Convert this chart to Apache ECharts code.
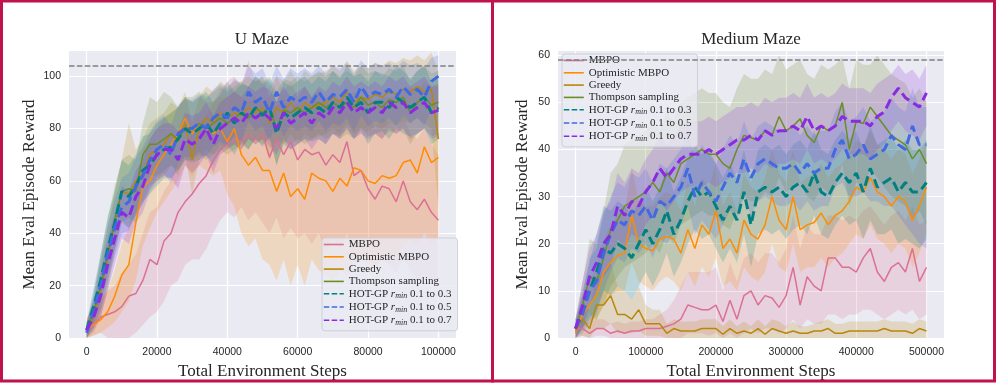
<!DOCTYPE html>
<html>
<head>
<meta charset="utf-8">
<script src="https://cdn.jsdelivr.net/npm/echarts@6/dist/echarts.min.js"></script>
<style>
  html, body { margin: 0; padding: 0; background: #fff; }
  #chart { width: 996px; height: 383px; }
</style>
</head>
<body>
<div id="chart"></div>
<script>
// evaluation steps
const uSteps = Array.from({ length: 51 }, (_, i) => i * 2000);
const mSteps = Array.from({ length: 51 }, (_, i) => i * 10000);

const names = ["MBPO", "Optimistic MBPO", "Greedy", "Thompson sampling",
  "HOT-GP rmin 0.1 to 0.3", "HOT-GP rmin 0.1 to 0.5", "HOT-GP rmin 0.1 to 0.7"];
const colors = ["#db7093", "#ff8c00", "#b8860b", "#6b8e23", "#008080", "#4169e1", "#8a2be2"];

const uTarget = 104;
const mTarget = 59;

// ---- U Maze ----
const uMBPO = [3,5,8,9,10,12,16,17,22,30, 28,37,40,48,52,55,59,62,68,72, 74,76,75,78,76,78,69,76,70,75, 68,72,70,71,66,70,67,75,62,64, 57,53,58,57,52,60,52,49,53,48, 45];
const uMBPOLo = [0,1,2,0,0,0,0,2,5,8, 10,14,20,22,28,30,30,34,40,45, 48,46,50,45,48,44,40,46,38,42, 38,40,36,40,33,38,34,40,30,32, 30,28,30,28,25,30,26,22,24,22, 20];
const uMBPOHi = [6,10,15,18,20,25,28,32,40,48, 50,56,60,68,74,78,82,85,90,95, 98,100,96,106,98,100,92,100,94,98, 92,96,92,95,90,94,90,96,88,90, 85,80,84,82,80,85,78,76,80,74, 70];

const uOpt = [4,5,7,10,16,24,28,44,58,60, 66,70,74,78,84,78,82,80,78,80, 75,80,70,66,69,64,64,56,63,54, 57,53,63,61,60,56,61,58,65,64, 60,59,62,61,62,67,68,63,73,67, 69];
const uOptLo = [0,1,2,4,6,10,14,22,35,42, 48,52,56,60,66,62,66,64,62,64, 55,50,40,35,38,30,28,22,30,20, 28,20,30,26,24,22,26,24,28,30, 28,26,30,30,32,35,38,35,40,36, 38];
const uOptHi = [8,10,14,18,26,36,42,60,72,76, 80,84,86,88,92,90,92,90,90,92, 92,94,92,90,92,90,92,88,92,86, 90,86,92,90,90,88,92,90,94,92, 92,90,92,92,92,94,96,94,98,96, 96];

const uGreedy = [3,8,18,30,44,56,55,60,63,70, 72,74,78,75,82,68,80,84,82,86, 84,86,85,88,86,88,82,88,86,90, 86,90,88,89,90,92,90,94,90,92, 91,93,92,94,93,95,94,96,94,95, 76];
const uGreedyLo = [0,2,8,18,32,44,42,48,52,58, 60,62,66,62,70,55,68,72,70,74, 72,74,72,76,74,76,68,76,74,78, 74,78,76,77,78,80,78,82,78,80, 79,81,80,82,81,83,82,84,82,80, 50];
const uGreedyHi = [6,14,28,42,56,68,82,72,76,82, 84,86,90,88,94,82,92,96,94,98, 96,98,98,100,98,100,96,100,98,102, 98,102,100,101,102,104,102,106,102,104, 103,105,104,106,105,107,106,108,106,109, 102];

const uThompson = [3,10,20,32,45,56,57,56,70,74, 74,76,78,76,80,80,82,80,82,84, 82,84,86,84,88,86,88,80,87,86, 88,86,88,90,88,90,88,90,88,92, 89,90,88,91,90,92,86,90,92,89, 90];
const uThompsonLo = [0,4,10,20,34,44,46,44,58,62, 62,64,66,64,68,68,70,68,70,72, 70,72,74,72,76,74,76,66,75,74, 76,74,76,78,76,78,76,78,76,80, 77,78,76,79,78,80,74,78,80,77, 78];
const uThompsonHi = [6,16,32,46,58,68,70,68,82,92, 90,94,92,88,92,92,94,92,94,96, 94,96,98,96,100,98,100,94,99,98, 100,98,100,102,100,102,100,102,100,104, 101,102,100,103,102,104,98,102,104,101, 102];

const uHot3 = [3,12,22,34,44,56,54,58,64,66, 70,72,73,76,80,78,80,82,78,82, 86,82,86,84,88,85,88,78,86,84, 86,88,86,88,86,90,88,92,88,90, 86,90,90,88,92,90,88,90,92,86, 88];
const uHot3Lo = [0,6,14,24,34,45,42,47,52,55, 58,61,61,64,68,67,68,70,66,71, 74,70,75,72,76,73,77,66,74,72, 74,76,75,76,74,78,77,80,76,79, 74,78,79,76,80,78,77,78,80,74, 76];
const uHot3Hi = [6,19,32,46,56,68,66,70,77,78, 82,84,86,88,92,90,92,94,90,93, 98,94,97,96,100,97,99,90,98,96, 98,100,97,100,98,102,99,104,100,101, 98,102,101,100,104,102,99,102,104,98, 100];

const uHot5 = [2,10,20,32,42,50,52,58,62,68, 72,74,70,78,80,80,82,80,84,86, 84,88,86,94,90,92,86,94,88,92, 90,92,90,94,90,93,92,95,90,96, 92,94,93,95,92,96,93,95,92,98, 100];
const uHot5Lo = [0,4,11,22,31,40,41,47,51,57, 61,63,59,67,69,69,71,69,73,75, 73,77,75,83,79,81,75,83,77,81, 79,81,79,83,79,82,81,84,79,85, 81,83,82,84,81,85,82,84,81,87, 89];
const uHot5Hi = [5,17,30,43,53,61,63,69,73,79, 83,85,81,89,91,91,93,91,95,97, 95,99,97,104,101,103,97,104,99,103, 101,103,101,104,101,104,103,105,101,106, 103,105,104,105,103,106,104,105,103,107, 108];

const uHot7 = [3,8,16,28,38,48,46,54,58,66, 70,72,72,68,76,74,76,80,74,80, 82,84,82,86,84,86,84,80,86,82, 84,86,82,86,84,88,86,90,86,88, 86,88,86,90,88,90,86,88,90,86, 87];
const uHot7Lo = [0,3,8,18,28,38,36,44,48,56, 60,62,61,57,66,63,66,70,63,70, 72,74,72,76,74,76,73,70,76,72, 74,76,72,76,74,78,76,80,76,78, 76,78,76,80,78,80,76,78,80,76, 77];
const uHot7Hi = [6,14,25,38,48,58,56,64,68,76, 80,82,82,79,86,85,86,90,85,90, 92,94,92,96,94,96,95,90,96,92, 94,96,92,96,94,98,96,100,96,98, 96,98,96,100,98,100,96,98,100,96, 97];

// ---- Medium Maze ----
const mMBPO = [2,2,1,2,2,1,1.5,1,1.5,1.5, 2,2,2,2.5,3,4,7,6.5,6,6, 7,3.5,8,4,9,10,7,9,8.5,6.5, 9,15,7,13,11,10,17,17,15,15, 14,17,19,14,12,15,16,14,19,12, 15];
const mMBPOLo = [0,0.5,0,0.5,0.5,0,0,0,0,0, 0,0,0,0,0,0,1,1,1,0.5, 1,0,1,0,1,2,1,2,2,1, 2,4,2,4,3,3,5,5,4,5, 5,6,6,5,4,5,6,5,6,4, 5];
const mMBPOHi = [4,4,3,4,4,3,3.5,3,3.5,3.5, 4,4,5,6,8,11,14,14,14,14, 15,10,16,12,17,18,16,18,18,16, 19,26,19,24,22,22,26,26,25,26, 25,27,28,26,24,26,27,25,28,24, 25];

const mOpt = [1,5,7,9,14,16,17.5,18,26,20, 19,18.5,21,21.5,21,18,23,19,24,22, 27,19,21,18,25,22,21,24,30,25, 23,30,23,24,24.5,26.5,24,26,27,29, 32,31,34,31,30,28,30,29,25,28, 32];
const mOptLo = [0,2,3,4,7,9,10,10,16,12, 11,10,12,13,12,10,14,11,15,13, 17,11,12,10,15,13,12,14,20,15, 14,20,14,15,15,17,15,17,18,20, 22,21,24,21,20,18,20,19,15,18, 22];
const mOptHi = [3,9,12,15,21,24,26,27,36,29, 28,28,30,31,30,27,33,28,34,32, 37,28,31,27,35,32,31,34,40,35, 33,40,33,34,35,37,34,36,37,39, 42,41,44,41,40,38,40,39,35,38, 42];

const mGreedy = [1.5,4,2,7,7,9,5,5,4,6, 3,3,3,1,2,1.5,1.5,1.5,2,2, 2,0.8,2,1,1.5,1,2,0.8,2,1.5, 1,1.5,1,1,1.5,1.5,2,1,1,1.5, 1.5,1.5,1.5,1.5,2,1.5,1.5,1.5,1,2, 1.5];
const mGreedyLo = [0,0.5,0,2,2,3,1,1,1,1.5, 0.5,0.5,0.5,0,0,0,0,0,0,0, 0,0,0,0,0,0,0,0,0,0, 0,0,0,0,0,0,0,0,0,0, 0,0,0,0,0,0,0,0,0,0, 0];
const mGreedyHi = [3,8,6,13,14,16,11,10,8,11, 7,6,6,3,4,3.5,3.5,3.5,4,4, 4,2.5,4,2.5,3.5,2.5,4,2.5,4,3.5, 2.5,3.5,2.5,2.5,3,3.5,4,3,3,3.5, 3.5,3.5,3.5,3.5,4,3.5,3.5,3.5,3,4, 3.5];

const mThompson = [2,7,13,12,17,23,25,28,29,30, 31,33,31,35,33,37,38,39,40,39, 39,37,36,40,43,42.5,42,44,43,47, 44,45,46.5,43,41.5,45,44,45,50,40, 46,45.5,49,47,45,43,42,41,38,40, 37];
const mThompsonLo = [0,2,5,4,7,11,13,15,16,17, 18,20,18,22,20,24,25,26,27,26, 26,24,23,27,30,29,29,31,30,34, 31,32,33,30,29,32,31,32,37,28, 33,32,36,34,32,30,29,28,25,27, 24];
const mThompsonHi = [4,12,21,20,27,35,37,41,42,43, 44,46,44,48,46,50,51,52,53,52, 52,50,49,53,56,55,55,57,56,60, 57,58,59,56,55,58,57,58,59.5,53, 59,58,58,60,58,56,55,54,51,53, 50];

const mHot3 = [2,6,10,14,19,18,20,19,17,20, 23,20,23,27,22,25,29,32,30,31, 28,25,28,25,31,24,31,32,31,32, 30,32,33,31,35,31,30,33,35,33, 35,31,36,32,33,34,31,33,31,31, 33];
const mHot3Lo = [0,2,4,6,10,9,11,10,8,11, 14,11,14,18,13,16,20,23,21,22, 19,16,19,16,22,15,22,23,22,23, 21,23,24,22,26,22,21,24,26,24, 25,21,25,22,22,23,20,21,20,19, 21];
const mHot3Hi = [4,10,16,22,28,27,29,28,26,29, 32,29,32,36,31,34,38,41,39,40, 37,34,37,34,40,33,40,41,40,41, 39,41,42,40,44,40,39,42,44,42, 44,40,45,41,42,43,40,42,40,40, 42];

const mHot5 = [2,5,10,12,18,22,25,24,27,26, 28,25,29,28,30,32,36,30,33,31, 29,32,35,33,38,34,37,38,37,36, 36,37,35,37,35,36,36,40,42,38, 39,41,38,39,40,43,41,40,45,41, 41];
const mHot5Lo = [0,1,3,5,10,14,17,16,19,18, 20,17,21,20,22,24,28,22,25,23, 21,24,27,25,30,26,29,30,29,28, 28,29,27,29,27,28,28,32,33,30, 30,31,29,29,28,28,26,24,22,20, 19];
const mHot5Hi = [4,9,17,19,26,30,33,32,35,34, 36,33,37,36,38,40,44,38,41,39, 37,40,43,41,46,42,45,46,45,44, 44,45,43,45,43,44,44,48,50,46, 47,49,46,47,48,51,49,48,53,49, 49];

const mHot7 = [2,7,13,16,20,22,28,26,29,28, 31,33,36,34,36,38,39,39,39,40, 39,40,41,42,42,43,42,44,43,44, 44,45,44,47,44,45,44,45,47,46, 46,46,45,47,48,51,53,51,50,49, 52];
const mHot7Lo = [0,2,7,10,13,15,21,19,22,21, 24,26,29,27,29,31,32,32,32,33, 32,33,34,35,35,36,35,37,36,37, 37,38,37,40,37,38,37,38,40,39, 39,39,38,40,41,44,46,44,43,42, 45];
const mHot7Hi = [4,12,19,22,27,29,35,33,36,35, 38,40,43,41,43,45,46,46,46,47, 46,47,48,49,49,50,49,51,50,51, 51,52,51,54,51,52,51,52,54,53, 53,53,52,54,55,56,58,56,57,55, 58];

const uMeans = [uMBPO, uOpt, uGreedy, uThompson, uHot3, uHot5, uHot7];
const uLos = [uMBPOLo, uOptLo, uGreedyLo, uThompsonLo, uHot3Lo, uHot5Lo, uHot7Lo];
const uHis = [uMBPOHi, uOptHi, uGreedyHi, uThompsonHi, uHot3Hi, uHot5Hi, uHot7Hi];
const mMeans = [mMBPO, mOpt, mGreedy, mThompson, mHot3, mHot5, mHot7];
const mLos = [mMBPOLo, mOptLo, mGreedyLo, mThompsonLo, mHot3Lo, mHot5Lo, mHot7Lo];
const mHis = [mMBPOHi, mOptHi, mGreedyHi, mThompsonHi, mHot3Hi, mHot5Hi, mHot7Hi];

const serif = "Liberation Serif";
const sans = "Liberation Sans";
const ink = "#262626";

function rgba(hex, a) {
  const n = parseInt(hex.slice(1), 16);
  return "rgba(" + (n >> 16) + "," + ((n >> 8) & 255) + "," + (n & 255) + "," + a + ")";
}

function panelSeries(k, steps, means, los, his, target) {
  const out = [];
  names.forEach((name, i) => {
    const hot = i >= 4;
    const s = {
      type: "line", name: name, xAxisIndex: k, yAxisIndex: k,
      data: steps.map((x, j) => [x, means[i][j]]),
      symbol: "none", showSymbol: false, z: 3,
      itemStyle: { color: colors[i] },
      lineStyle: { color: colors[i], width: hot ? 3 : 1.5, type: hot ? [10, 5] : "solid" }
    };
    if (i === 0) {
      s.markLine = {
        silent: true, symbol: "none", label: { show: false },
        lineStyle: { color: "#808080", width: 1.5, type: [5.5, 2.4] },
        data: [{ yAxis: target }]
      };
    }
    out.push(s);
  });
  names.forEach((name, i) => {
    const lo = los[i], hi = his[i];
    out.push({
      type: "custom", name: name, xAxisIndex: k, yAxisIndex: k, z: 1, silent: true, clip: true,
      data: steps.map((x, j) => [x, lo[j], hi[j]]),
      encode: { x: 0, y: [1, 2] },
      renderItem: function (params, api) {
        if (params.dataIndex !== 0) return null;
        const pts = [];
        for (let j = 0; j < steps.length; j++) pts.push(api.coord([steps[j], hi[j]]));
        for (let j = steps.length - 1; j >= 0; j--) pts.push(api.coord([steps[j], lo[j]]));
        return { type: "polygon", shape: { points: pts }, style: { fill: rgba(colors[i], 0.2) } };
      }
    });
  });
  return out;
}

function legendFor(left, top) {
  return {
    orient: "vertical", left: left, top: top,
    itemWidth: 20, itemHeight: 10, itemGap: 1.3,
    padding: [1, 6, 4, 1],
    backgroundColor: "rgba(234,234,242,0.8)",
    borderColor: "#cfcfd8", borderWidth: 1, borderRadius: 3,
    data: names.map((n, i) => ({
      name: n,
      itemStyle: { opacity: 0 },
      lineStyle: { width: 1.6, type: i >= 4 ? [5.5, 2.4] : "solid", opacity: 1 }
    })),
    formatter: function (name) {
      const m = name.match(/^HOT-GP rmin (.*)$/);
      if (m) return "{t|HOT-GP }{r|r}{s|min}{t| " + m[1] + "}";
      return "{p|" + name + "}";
    },
    textStyle: {
      rich: {
        p: { fontFamily: serif, fontSize: 11, color: ink },
        t: { fontFamily: serif, fontSize: 11, padding: [2, 0, 2, 0], color: ink },
        r: { fontFamily: serif, fontSize: 11, fontStyle: "italic", padding: [2, 0, 2, 0], color: ink },
        s: { fontFamily: serif, fontSize: 8, fontStyle: "italic", padding: [5, 0, 0, 0], color: ink }
      }
    }
  };
}

function xAxisFor(k, min, max) {
  return {
    type: "value", gridIndex: k, min: min, max: max,
    axisLine: { show: false }, axisTick: { show: false },
    splitLine: { lineStyle: { color: "#ffffff", width: 1.2 }, showMinLine: false, showMaxLine: false },
    axisLabel: { showMinLabel: false, showMaxLabel: false, formatter: v => String(v),
      color: ink, fontFamily: sans, fontSize: 10.5, margin: 9 },
    name: "Total Environment Steps", nameLocation: "middle", nameGap: 18,
    nameTextStyle: { fontFamily: serif, fontSize: 17, color: ink }
  };
}

function yAxisFor(k, max, gap) {
  return {
    type: "value", gridIndex: k, min: 0, max: max,
    axisLine: { show: false }, axisTick: { show: false },
    splitLine: { lineStyle: { color: "#ffffff", width: 1.2 }, showMinLine: false, showMaxLine: false },
    axisLabel: { showMaxLabel: false, color: ink, fontFamily: sans, fontSize: 10.5, margin: 8 },
    name: "Mean Eval Episode Reward", nameLocation: "middle", nameGap: gap, nameRotate: 90,
    nameTextStyle: { fontFamily: serif, fontSize: 17, color: ink }
  };
}

const chart = echarts.init(document.getElementById("chart"), null, { renderer: "canvas" });
chart.setOption({
  animation: false,
  backgroundColor: "#ffffff",
  title: [
    { text: "U Maze", left: 262, top: 31, textAlign: "center", padding: 0,
      textStyle: { fontFamily: serif, fontSize: 17, fontWeight: "normal", color: ink } },
    { text: "Medium Maze", left: 751, top: 31, textAlign: "center", padding: 0,
      textStyle: { fontFamily: serif, fontSize: 17, fontWeight: "normal", color: ink } }
  ],
  grid: [
    { left: 69, top: 51, width: 387, height: 287, show: true, backgroundColor: "#eaeaf2", borderWidth: 0, containLabel: false, outerBoundsMode: "none" },
    { left: 558, top: 51, width: 386, height: 287, show: true, backgroundColor: "#eaeaf2", borderWidth: 0, containLabel: false, outerBoundsMode: "none" }
  ],
  xAxis: [xAxisFor(0, -5000, 105000), xAxisFor(1, -25000, 525000)],
  yAxis: [yAxisFor(0, 109.6, 31), yAxisFor(1, 60.9, 27)],
  legend: [legendFor(322, 238), legendFor(562, 54)],
  series: panelSeries(0, uSteps, uMeans, uLos, uHis, uTarget)
    .concat(panelSeries(1, mSteps, mMeans, mLos, mHis, mTarget)),
  graphic: [
    { type: "rect", z: 100, silent: true, shape: { x: 1.5, y: 1, width: 491, height: 380 },
      style: { fill: "none", stroke: "#c0134b", lineWidth: 3 } },
    { type: "rect", z: 100, silent: true, shape: { x: 492.5, y: 1, width: 502, height: 380 },
      style: { fill: "none", stroke: "#c0134b", lineWidth: 3 } }
  ]
});
</script>
</body>
</html>
